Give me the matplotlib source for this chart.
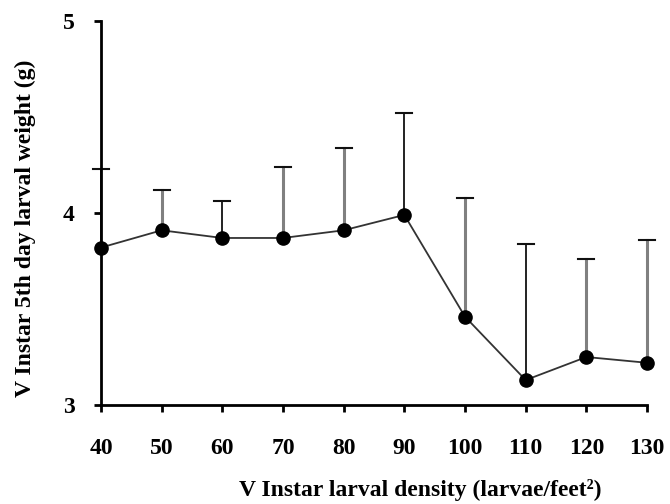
import matplotlib.pyplot as plt

# larval density vs 5th day larval weight
density = [40, 50, 60, 70, 80, 90, 100, 110, 120, 130]
weight = [3.82, 3.91, 3.87, 3.87, 3.91, 3.99, 3.46, 3.13, 3.25, 3.22]
err_top = [4.23, 4.12, 4.06, 4.24, 4.34, 4.52, 4.08, 3.84, 3.76, 3.86]
y_ticks = [3, 4, 5]

# rendering of the bars differs in the original image
bar_colors = ['#111111', '#808080', '#111111', '#808080', '#808080',
              '#111111', '#808080', '#111111', '#808080', '#808080']

plt.rcParams['font.family'] = ['Liberation Serif', 'DejaVu Serif']
plt.rcParams['font.weight'] = 'bold'

fig = plt.figure(figsize=(6.7, 5.04), dpi=100)
ax = fig.add_axes([0.1507, 0.1964, 0.8150, 0.7619])

for x, y, t, c in zip(density, weight, err_top, bar_colors):
    lw = 1.3 if c == '#111111' else 2.2
    ax.plot([x, x], [y, t], color=c, lw=lw, zorder=2, clip_on=False)
    # cap in black
    ax.plot([x - 1.3, x + 1.3], [t, t], color='#111111', lw=1.5, zorder=2,
            clip_on=False)

ax.plot(density, weight, color='#333333', lw=1.3, marker='o', markersize=9.5,
        markerfacecolor='black', markeredgecolor='black', zorder=3, clip_on=False)

ax.set_xlim(40, 130)
ax.set_ylim(3, 5)
ax.set_xticks(density)
ax.set_yticks(y_ticks)

for s in ['top', 'right']:
    ax.spines[s].set_visible(False)
for s in ['left', 'bottom']:
    ax.spines[s].set_linewidth(2)
    ax.spines[s].set_color('black')

ax.tick_params(axis='both', direction='out', length=5, width=2, labelsize=17)
ax.tick_params(axis='x', pad=19)
ax.tick_params(axis='y', pad=14)

ax.set_xlabel('V Instar larval density (larvae/feet²)', fontsize=17,
              fontweight='bold')
ax.set_ylabel('V Instar 5th day larval weight (g)', fontsize=17,
              fontweight='bold')
ax.xaxis.set_label_coords(0.584, -0.221)
ax.yaxis.set_label_coords(-0.139, 0.461)
ax.xaxis.label.set_va('center')
ax.yaxis.label.set_va('center')

plt.savefig('out.png', dpi=100)
